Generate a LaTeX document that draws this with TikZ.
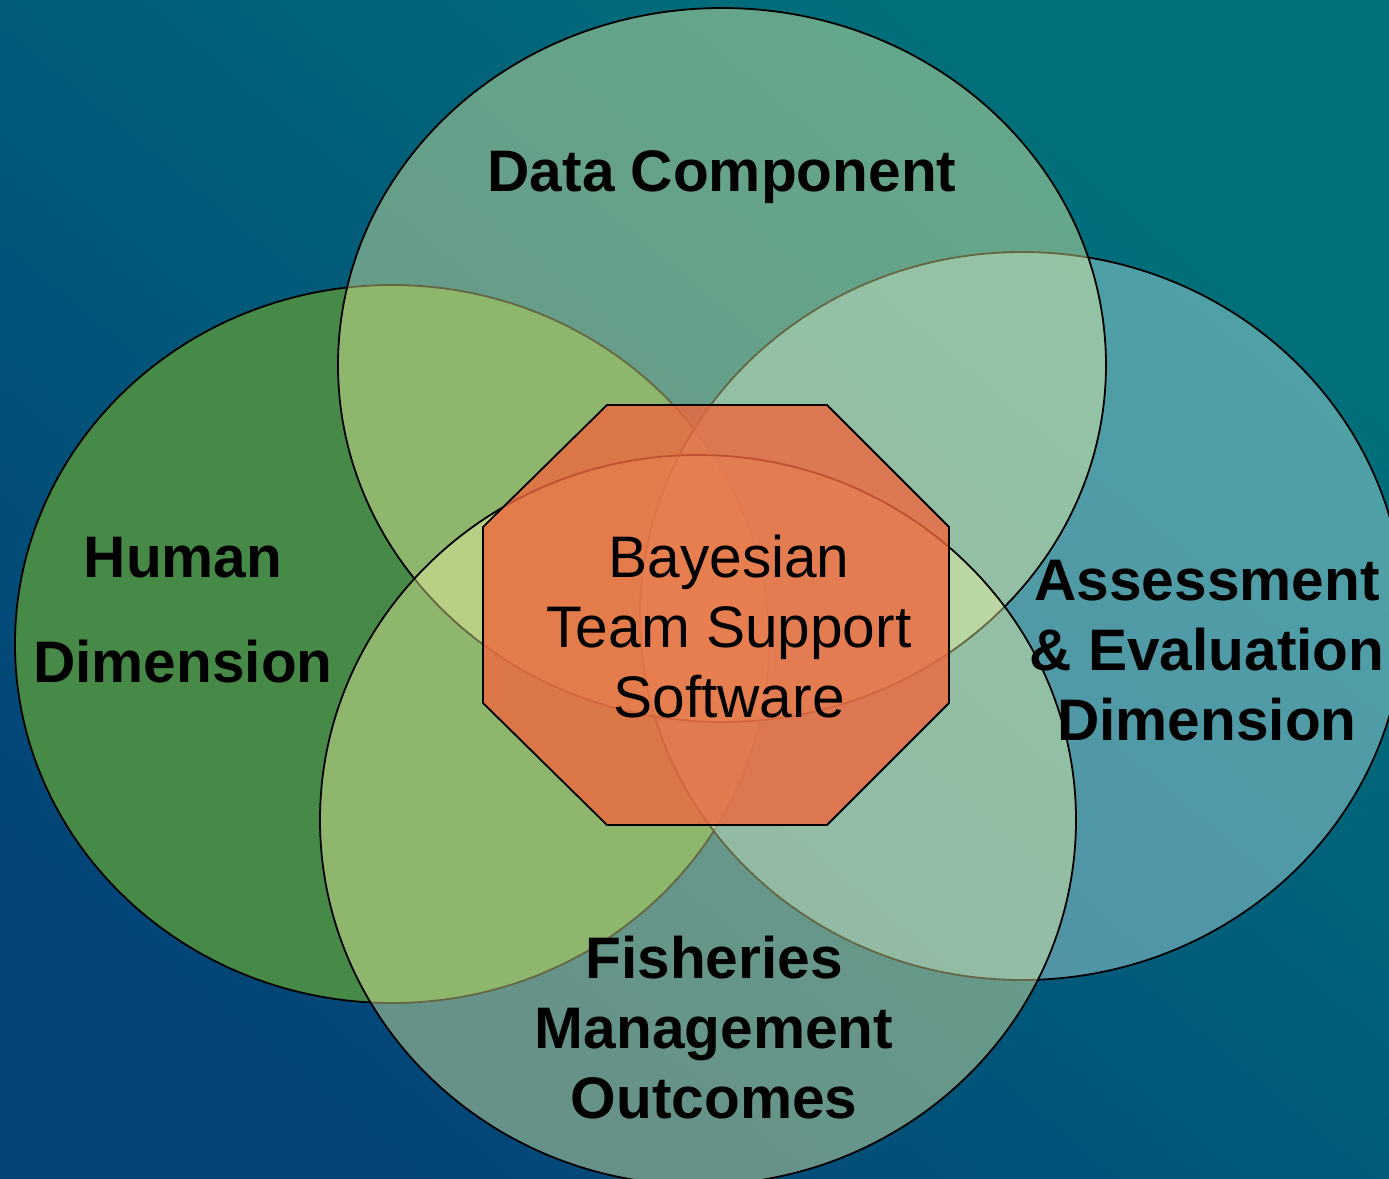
\documentclass[tikz,border=0pt]{standalone}
\usepackage{fontspec}
\setmainfont{Liberation Sans}
\definecolor{bgTeal}{RGB}{0,114,122}
\definecolor{bgBlue}{RGB}{2,68,120}
\definecolor{humanGreen}{RGB}{71,137,71}
\definecolor{dataPale}{RGB}{242,246,162}
\definecolor{assessPale}{RGB}{190,231,229}
\definecolor{hubOrange}{RGB}{239,102,62}
\tikzset{
  venn/.style={draw=black, line width=0.9pt},
  vennlabel/.style={align=center, font=\bfseries\fontsize{29.3}{35}\selectfont},
}
\begin{document}
\begin{tikzpicture}[x=0.5pt, y=-0.5pt]
    \useasboundingbox (0,0) rectangle (1389,1179);
    \clip (0,0) rectangle (1389,1179);
    % background
    \shade[top color=bgTeal, bottom color=bgBlue, shading angle=-40]
      (0,0) rectangle (1389,1179);

    % the four dimensions
    \filldraw[venn, fill=humanGreen] (392,644) ellipse [x radius=377, y radius=359];
    \filldraw[venn, fill=assessPale, fill opacity=0.42] (1022,616) ellipse [x radius=382, y radius=364];
    \filldraw[venn, fill=dataPale, fill opacity=0.42] (722,365) ellipse [x radius=384, y radius=357];
    \filldraw[venn, fill=dataPale, fill opacity=0.42] (698,820) ellipse [x radius=378, y radius=365];

    % software hub
    \filldraw[venn, fill=hubOrange, fill opacity=0.8]
      (607,405) -- (827,405) -- (949,527) -- (949,703) -- (827,825)
      -- (607,825) -- (483,703) -- (483,527) -- cycle;

    \node[vennlabel] (data) at (722,177) {Data Component};
    \node[vennlabel, font=\bfseries\fontsize{29.3}{52.5}\selectfont] (human) at (183,610) {Human\\Dimension};
    \node[vennlabel] (assess) at (1207,651) {Assessment\\\& Evaluation\\Dimension};
    \node[vennlabel] (fish) at (714,1028) {Fisheries\\Management\\Outcomes};
    \node[vennlabel, font=\fontsize{29.3}{35}\selectfont] (hub) at (729,627) {Bayesian\\Team Support\\Software};
\end{tikzpicture}
\end{document}
